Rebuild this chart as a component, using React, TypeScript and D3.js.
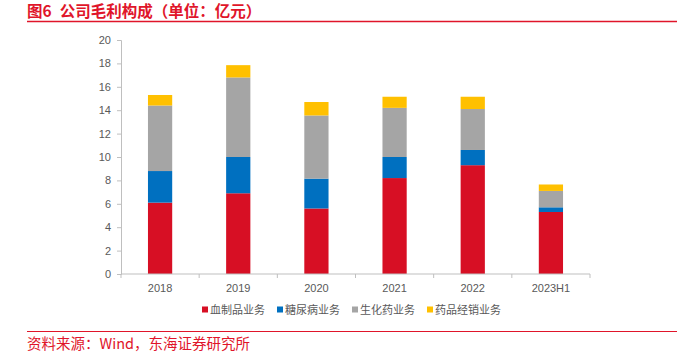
import { useEffect, useRef } from "react";
import * as d3 from "d3";

const categories = ["2018", "2019", "2020", "2021", "2022", "2023H1"];
const seriesNames = ["血制品业务", "糖尿病业务", "生化药业务", "药品经销业务"];
const blood = [6.1, 6.9, 5.6, 8.2, 9.3, 5.3];
const diabetes = [2.7, 3.1, 2.55, 1.8, 1.3, 0.4];
const biochem = [5.6, 6.8, 5.4, 4.2, 3.5, 1.4];
const distribution = [0.9, 1.05, 1.15, 0.95, 1.05, 0.55];
const yTicks = [0, 2, 4, 6, 8, 10, 12, 14, 16, 18, 20];
const colors = ["#D70F24", "#0070C0", "#A5A5A5", "#FFC000"];

export default function App() {
  const ref = useRef<SVGSVGElement>(null);

  useEffect(() => {
    const width = 677;
    const height = 354;
    const svg = d3.select(ref.current).attr("width", width).attr("height", height);
    svg.selectAll("*").remove();

    const font = "'Liberation Sans', Arial, 'Noto Sans CJK SC', sans-serif";
    const cjk = "'Noto Sans CJK SC', sans-serif";
    const red = "#E0152A";

    // title + rule
    const title = svg.append("text")
      .attr("x", 27).attr("y", 17)
      .attr("fill", red)
      .style("font-family", cjk)
      .style("font-weight", "bold")
      .style("font-size", "15.5px");
    title.append("tspan").text("图6");
    title.append("tspan").attr("dx", 8).text("公司毛利构成（单位：亿元）");
    svg.append("line")
      .attr("x1", 27).attr("x2", width).attr("y1", 21.5).attr("y2", 21.5)
      .attr("stroke", red).attr("stroke-width", 1.5);

    const data = categories.map((c, i) => ({
      cat: c,
      s0: blood[i], s1: diabetes[i], s2: biochem[i], s3: distribution[i],
    }));
    const stack = d3.stack<any>().keys(["s0", "s1", "s2", "s3"])(data);

    const x = d3.scaleBand().domain(categories).range([121, 590]).paddingInner(0.69).paddingOuter(0.345);
    const y = d3.scaleLinear().domain([0, 20]).range([274, 40]);

    const axisColor = "#BFBFBF";
    const textColor = "#595959";

    // y axis
    const yAxis = svg.append("g")
      .attr("transform", "translate(121,0)")
      .call(d3.axisLeft(y).tickValues(yTicks).tickSize(4).tickPadding(6));
    yAxis.select(".domain").attr("stroke", axisColor);
    yAxis.selectAll(".tick line").attr("stroke", axisColor);
    yAxis.selectAll(".tick text")
      .attr("fill", textColor)
      .style("font-family", font)
      .style("font-size", "11px");

    // bars
    svg.append("g")
      .selectAll("g")
      .data(stack)
      .join("g")
      .attr("fill", (_, i) => colors[i])
      .selectAll("rect")
      .data((d) => d)
      .join("rect")
      .attr("x", (d: any) => x(d.data.cat)!)
      .attr("width", x.bandwidth())
      .attr("y", (d) => y(d[1]))
      .attr("height", (d) => y(d[0]) - y(d[1]));

    // x axis
    const band = (590 - 121) / categories.length;
    const xAxis = svg.append("g").attr("transform", "translate(0,274)");
    xAxis.append("line")
      .attr("x1", 121).attr("x2", 590)
      .attr("stroke", axisColor);
    xAxis.selectAll(".sep")
      .data(d3.range(categories.length + 1))
      .join("line")
      .attr("x1", (i) => 121 + i * band).attr("x2", (i) => 121 + i * band)
      .attr("y1", 0).attr("y2", 4)
      .attr("stroke", axisColor);
    xAxis.selectAll(".lbl")
      .data(categories)
      .join("text")
      .attr("x", (c) => x(c)! + x.bandwidth() / 2)
      .attr("y", 18)
      .attr("text-anchor", "middle")
      .attr("fill", textColor)
      .style("font-family", font)
      .style("font-size", "11px")
      .text((c) => c);

    // legend
    const legend = svg.append("g").attr("transform", "translate(202,310)");
    const item = legend.selectAll("g")
      .data(seriesNames)
      .join("g")
      .attr("transform", (_, i) => `translate(${i * 75},0)`);
    item.append("rect")
      .attr("x", 0).attr("y", -3.5).attr("width", 6).attr("height", 6)
      .attr("fill", (_, i) => colors[i]);
    item.append("text")
      .attr("x", 8).attr("y", 4)
      .attr("fill", textColor)
      .style("font-family", cjk)
      .style("font-size", "11px")
      .text((d) => d);

    // footer
    svg.append("line")
      .attr("x1", 27).attr("x2", width).attr("y1", 331.5).attr("y2", 331.5)
      .attr("stroke", red).attr("stroke-width", 1);
    svg.append("text")
      .attr("x", 27).attr("y", 349)
      .attr("fill", red)
      .style("font-family", cjk)
      .style("font-size", "14.5px")
      .text("资料来源：Wind，东海证券研究所");
  }, []);

  return (
    <svg ref={ref} style={{ position: "absolute", left: 0, top: 0 }} />
  );
}
